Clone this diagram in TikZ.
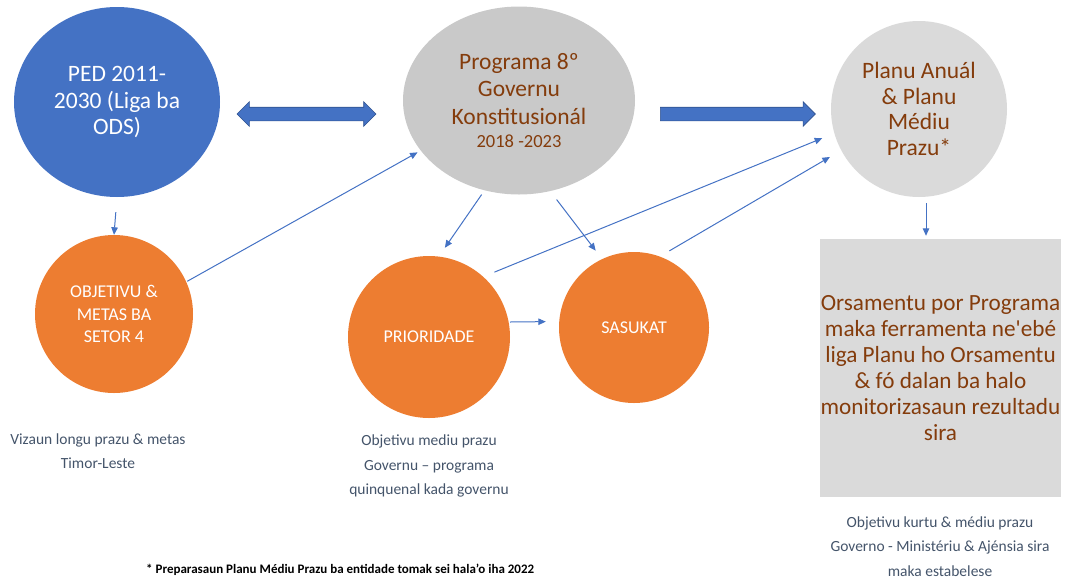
\documentclass[tikz,border=0pt]{standalone}
\usepackage{fontspec}
\setmainfont{Carlito}
\usetikzlibrary{shapes.geometric,shapes.arrows,arrows.meta}
\definecolor{blueA}{HTML}{4472C4}
\definecolor{blueD}{HTML}{2F528F}
\definecolor{orangeA}{HTML}{ED7D31}
\definecolor{grayM}{HTML}{C9C9C9}
\definecolor{grayL}{HTML}{DADADA}
\definecolor{brownT}{HTML}{843C0C}
\definecolor{slateT}{HTML}{44546A}
\newcommand{\fsz}[2]{\fontsize{#1pt}{#2pt}\selectfont}
\begin{document}
\begin{tikzpicture}[x=1pt,y=-1pt,
  blob/.style={ellipse,inner sep=0pt,align=center},
  orangeblob/.style={blob,fill=orangeA,text=white,font=\fsz{18}{22.5}},
  capt/.style={align=center,text=slateT,font=\fsz{15.5}{24.5},inner sep=0pt},
  thinarrow/.style={draw=blueA,line width=1pt,-{Triangle[length=7.5pt,width=6.5pt]}},
  blockarrow/.style={fill=blueA,draw=blueD,line width=0.6pt,inner sep=0pt,text height=13pt,text depth=0pt,text width=0pt,minimum width=24pt}
]
\useasboundingbox (0,0) rectangle (1066,579);

% main nodes
\node[blob,fill=blueA,text=white,minimum width=206pt,minimum height=190pt,font=\fsz{23.5}{26.5}] (ped) at (117,102) {PED 2011-\\2030 (Liga ba\\ODS)};
\node[blob,fill=grayM,text=brownT,minimum width=232pt,minimum height=188pt,font=\fsz{23.5}{27.5}] (prog) at (519,100.5) {Programa 8º\\Governu\\Konstitusionál\\[-4pt]{\fsz{18.5}{20}2018 -2023}};
\node[blob,fill=grayL,text=brownT,minimum width=176pt,minimum height=176pt,font=\fsz{23.5}{25.5}] (planu) at (919,109) {Planu Anuál\\\& Planu\\Médiu\\Prazu*};

\node[orangeblob,minimum width=158pt,minimum height=158pt] (obj) at (114,314) {OBJETIVU \&\\METAS BA\\SETOR 4};
\node[orangeblob,minimum width=162pt,minimum height=162pt] (prio) at (429,337) {PRIORIDADE};
\node[orangeblob,minimum width=150pt,minimum height=151pt] (sas) at (634,327.5) {SASUKAT};

\node[rectangle,fill=grayL,text=brownT,minimum width=241pt,minimum height=258pt,inner sep=0pt,align=center,font=\fsz{23.2}{26}] (orc) at (940.5,368) {Orsamentu por Programa\\maka ferramenta ne\textquotesingle ebé\\liga Planu ho Orsamentu\\\& fó dalan ba halo\\monitorizasaun rezultadu\\sira};

% captions
\node[capt] (c1) at (98,451) {Vizaun longu prazu \& metas\\Timor-Leste};
\node[capt] (c2) at (429,466) {Objetivu mediu prazu\\Governu – programa\\quinquenal kada governu};
\node[capt] (c3) at (940,546.5) {Objetivu kurtu \& médiu prazu\\Governo - Ministériu \& Ajénsia sira\\maka estabelese};
\node[anchor=west,inner sep=0pt,font=\bfseries\fsz{13}{15}] (foot) at (146,570) {* Preparasaun Planu Médiu Prazu ba entidade tomak sei hala’o iha 2022};

% block arrows
\node[blockarrow,double arrow,double arrow head extend=5.5pt,minimum height=139pt] (darr) at (306.5,114) {};
\node[blockarrow,single arrow,single arrow head extend=5.5pt,minimum height=155pt] (sarr) at (734.5,114) {};

% thin connectors
\draw[thinarrow,shorten <=15pt] (ped.south) -- (obj.north);
\draw[thinarrow,shorten <=1pt,shorten >=3.5pt] (obj.24) -- (prog.207.5);
\draw[thinarrow,shorten <=5pt,shorten >=10.5pt] (prog.249.7) -- (prio.83.7);
\draw[thinarrow,shorten <=10.5pt,shorten >=10.5pt] (prog.289.2) -- (sas.115.7);
\draw[thinarrow,shorten <=12pt,shorten >=13pt] (prio.48.9) -- (planu.196.1);
\draw[thinarrow,shorten <=11pt,shorten >=13pt] (sas.70.3) -- (planu.208.3);
\draw[thinarrow,shorten >=13pt] ([yshift=15pt]prio.east) -- ([yshift=6pt]sas.west);
\draw[thinarrow] ([xshift=7pt,yshift=-6pt]planu.south) -- ([xshift=-14.5pt,yshift=3pt]orc.north);
\end{tikzpicture}
\end{document}
